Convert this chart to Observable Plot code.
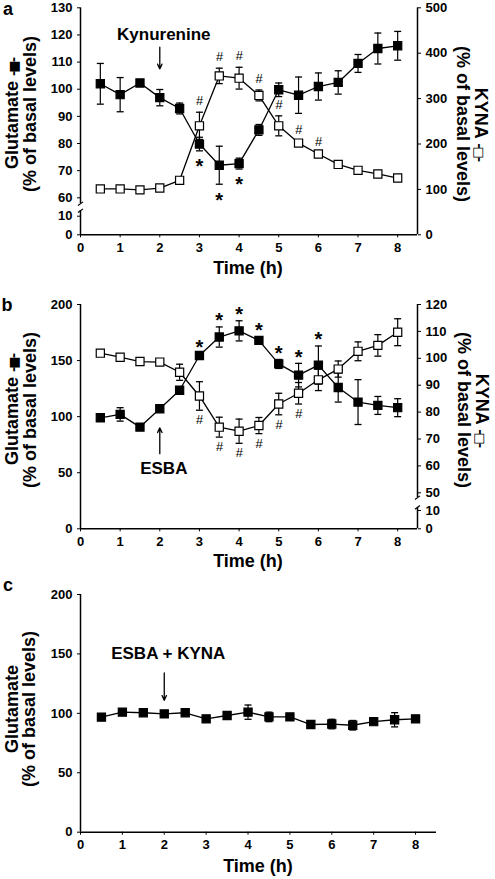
<!DOCTYPE html>
<html><head><meta charset="utf-8">
<script src="https://cdn.jsdelivr.net/npm/d3@7"></script>
<script src="https://cdn.jsdelivr.net/npm/@observablehq/plot@0.6"></script>
<style>
body{margin:0;background:#fff;}
#wrap{position:relative;width:495px;height:879px;overflow:hidden;font-family:"Liberation Sans",Arial,Helvetica,sans-serif;font-weight:bold;color:#000;background:#fff;}
.lbl{position:absolute;white-space:nowrap;text-align:center;line-height:17px;font-size:18px;}
.rot-l{transform:translate(-50%,-50%) rotate(-90deg);}
.rot-r{transform:translate(-50%,-50%) rotate(90deg);}
.ctr{transform:translate(-50%,-50%);}
.sym{letter-spacing:-2px;font-family:"DejaVu Sans",sans-serif;font-size:13px;color:#000;}
</style></head><body><div id="wrap"></div><script>
// ---------- data ----------
const times = [0.5,1,1.5,2,2.5,3,3.5,4,4.5,5,5.5,6,6.5,7,7.5,8];
const hourTicks = [0,1,2,3,4,5,6,7,8];

// panel a
const gluA    = [102,98,102.3,96.9,92.9,79.8,72,72.6,85,99.8,97.8,101,102.5,109.5,115,116];
const gluAErr = [7.5,6.3,1,3,2,2.5,7,2,2,2.5,6.7,5,4.3,3.3,5.7,5.3];
const kynaA    = [101,101,99,103,120,240,350,345,307,240,202,178,155,142,134,125];
const kynaAErr = [3,3,3,3,5,30,17,24,12,22,4,3,3,3,3,3];
const starA = [3,3.5,4];
const hashA = [3,3.5,4,4.5,5,5.5,6];
const ticksALeft = [0,10,60,70,80,90,100,110,120,130];
const ticksARight = [0,100,200,300,400,500];

// panel b
const gluB    = [99,102,90.7,107,123.5,154.5,171,176.5,168,147,137,146,126,113,110,108];
const gluBErr = [3,6,2,2,3,2,9,9,3,4,10.5,17,13,20,8,8];
const kynaB    = [101.9,100.4,98.8,98.6,94.8,86,74.4,72.9,75,83,87,92,96,102.6,104.8,109.7];
const kynaBErr = [1,1,1,1,3,5.3,3.7,4.5,3,4,4,4,3,3.5,4,5];
const starB = [3,3.5,4,4.5,5,5.5,6];
const hashB = [3,3.5,4,4.5,5,5.5];
const ticksBLeft = [0,50,100,150,200];
const ticksBRight = [0,10,50,60,70,80,90,100,110,120];

// panel c
const gluC    = [96.8,101,100.5,99.5,100.5,95.4,98.2,101,97,97,90.6,91,90,93,94.6,95.4];
const gluCErr = [2,2,2,2,2,2,2,6,4,2,2,4,4,2,6,2];
const ticksCLeft = [0,50,100,150,200];

// annotations
const annA = {label:"Kynurenine", t:2, textY:120, from:115.5, to:107.5};
const annB = {label:"ESBA", t:2, textY:54, from:67, to:90};
const annC = {label:"ESBA + KYNA", t:2, textY:150, from:134, to:111};

// broken-axis maps (value -> position units of a linear Plot scale)
const brokenA = d3.scaleLinear().domain([0,10,60,130]).range([0,18.6,37,227]);
const brokenB = d3.scaleLinear().domain([0,10,50,120]).range([0,18.3,36,224.3]);
const ident = v => v;

// ---------- helpers ----------
const W = 495;
const wrap = document.getElementById("wrap");
const FONT = "Liberation Sans, Arial, Helvetica, sans-serif";
const baseStyle = {fontFamily: FONT, fontSize: "13px", fontWeight: "bold", background: "transparent", color: "black", overflow: "visible"};

const rows = (vals, errs) => times.map((t,i)=>({t, v: vals[i], lo: vals[i]-errs[i], hi: vals[i]+errs[i]}));
const at = (rs, t) => rs.find(r => r.t === t);

const capSymbol = {draw(ctx){ ctx.moveTo(-3.5,0); ctx.lineTo(3.5,0); }};
const breakSymbol = {draw(ctx){ ctx.moveTo(-2.5,1.8); ctx.lineTo(2.5,-1.8); }};

function seriesMarks(data, filled, f = ident){
  return [
    Plot.line(data, {x:"t", y:d=>f(d.v), stroke:"black", strokeWidth:1.3}),
    Plot.ruleX(data, {x:"t", y1:d=>f(d.lo), y2:d=>f(d.hi), stroke:"black", strokeWidth:1.2}),
    Plot.dot(data, {x:"t", y:d=>f(d.hi), symbol:capSymbol, fill:"none", stroke:"black", strokeWidth:1.3}),
    Plot.dot(data, {x:"t", y:d=>f(d.lo), symbol:capSymbol, fill:"none", stroke:"black", strokeWidth:1.3}),
    Plot.dot(data, {x:"t", y:d=>f(d.v), symbol:"square", r:4.6, fill: filled ? "black" : "white", stroke:"black", strokeWidth:1.2})
  ];
}
function annotMarks(a, f = ident){
  return [
    Plot.text([a], {x:"t", y:d=>f(d.textY), text:"label", fontSize:17, fontWeight:"bold", dx:4}),
    Plot.arrow([a], {x1:"t", x2:"t", y1:d=>f(d.from), y2:d=>f(d.to), stroke:"black", strokeWidth:1.3, headLength:6, headAngle:50})
  ];
}
function place(svg, top){
  svg.style.position = "absolute"; svg.style.left = "0px"; svg.style.top = top + "px";
  wrap.appendChild(svg);
}
function label(html, cx, cy, cls){
  const d = document.createElement("div");
  d.className = "lbl " + cls;
  d.style.left = cx + "px"; d.style.top = cy + "px";
  d.innerHTML = html;
  wrap.appendChild(d);
}
const axisLine = {stroke:"black", strokeWidth:1.5};
const invFmt = m => u => String(Math.round(m.invert(u)));
const hashStyle = {fontSize:13, fontStyle:"italic", fontWeight:"normal", fill:"black"};

// ---------- panel a ----------
const rGA = rows(gluA, gluAErr), rKA = rows(kynaA, kynaAErr);
const aDims = {width:W, height:280, marginLeft:80, marginRight:78, marginTop:7.3, marginBottom:45.7, style:baseStyle};
place(Plot.plot({
  ...aDims,
  x:{domain:[0,8.5], ticks:hourTicks, tickSize:3, tickPadding:5, label:null},
  y:{domain:[0,227], ticks:ticksALeft.map(brokenA), tickFormat:invFmt(brokenA), tickSize:3, tickPadding:5, label:null},
  marks:[
    Plot.ruleY([0], {x1:0, x2:8.5, ...axisLine}),
    Plot.ruleX([[0,25],[44,130]], {x:0, y1:d=>brokenA(d[0]), y2:d=>brokenA(d[1]), ...axisLine}),
    Plot.dot([25,44], {x:0, y:d=>brokenA(d), symbol:breakSymbol, fill:"none", stroke:"black", strokeWidth:1.2}),
    ...annotMarks(annA, brokenA),
    ...seriesMarks(rGA, true, brokenA),
    Plot.text(starA, {x:d=>d, y:d=>brokenA(at(rGA,d).lo), text:()=>"*", fontSize:20, fontWeight:"bold", dy:16})
  ]
}), 0);
place(Plot.plot({
  ...aDims,
  x:{domain:[0,8.5], axis:null},
  y:{domain:[0,500], axis:"right", ticks:ticksARight, tickSize:3, tickPadding:5, label:null},
  marks:[
    Plot.ruleX([8.5], {y1:0, y2:500, ...axisLine}),
    ...seriesMarks(rKA, false),
    Plot.text(hashA, {x:d=>d, y:d=>at(rKA,d).hi, text:()=>"#", ...hashStyle, dy:-11})
  ]
}), 0);

// ---------- panel b ----------
const rGB = rows(gluB, gluBErr), rKB = rows(kynaB, kynaBErr);
const bDims = {width:W, height:290, marginLeft:80, marginRight:78, marginTop:24, marginBottom:41.7, style:baseStyle};
place(Plot.plot({
  ...bDims,
  x:{domain:[0,8.5], ticks:hourTicks, tickSize:3, tickPadding:5, label:null},
  y:{domain:[0,200], ticks:ticksBLeft, tickSize:3, tickPadding:5, label:null},
  marks:[
    Plot.ruleY([0], {x1:0, x2:8.5, ...axisLine}),
    Plot.ruleX([0], {y1:0, y2:200, ...axisLine}),
    ...annotMarks(annB),
    ...seriesMarks(rGB, true),
    Plot.text(starB, {x:d=>d, y:d=>at(rGB,d).hi, text:()=>"*", fontSize:20, fontWeight:"bold", dy:-6})
  ]
}), 280);
place(Plot.plot({
  ...bDims,
  x:{domain:[0,8.5], axis:null},
  y:{domain:[0,224.3], axis:"right", ticks:ticksBRight.map(brokenB), tickFormat:invFmt(brokenB), tickSize:3, tickPadding:5, label:null},
  marks:[
    Plot.ruleX([[0,17],[39,120]], {x:8.5, y1:d=>brokenB(d[0]), y2:d=>brokenB(d[1]), ...axisLine}),
    Plot.dot([17,39], {x:8.5, y:d=>brokenB(d), symbol:breakSymbol, fill:"none", stroke:"black", strokeWidth:1.2}),
    ...seriesMarks(rKB, false, brokenB),
    Plot.text(hashB, {x:d=>d, y:d=>brokenB(at(rKB,d).lo), text:()=>"#", ...hashStyle, dy:10})
  ]
}), 280);

// ---------- panel c ----------
const rGC = rows(gluC, gluCErr);
place(Plot.plot({
  width:W, height:309, marginLeft:80, marginRight:59, marginTop:24, marginBottom:47.3, style:baseStyle,
  x:{domain:[0,8.5], ticks:hourTicks, tickSize:3, tickPadding:5, label:null},
  y:{domain:[0,200], ticks:ticksCLeft, tickSize:3, tickPadding:5, label:null},
  marks:[
    Plot.ruleY([0], {x1:0, x2:8.5, ...axisLine}),
    Plot.ruleX([0], {y1:0, y2:200, ...axisLine}),
    ...annotMarks(annC),
    ...seriesMarks(rGC, true)
  ]
}), 570);

// ---------- text labels ----------
label('<span style="font-size:18px">a</span>', 8, 9, "ctr");
label('<span style="font-size:18px">b</span>', 7, 305, "ctr");
label('<span style="font-size:18px">c</span>', 8, 585, "ctr");

label('Glutamate <span class="sym">-■-</span><br>(% of basal levels)', 21, 114, "rot-l");
label('KYNA <span class="sym">-□-</span><br>(% of basal levels)', 471, 124, "rot-r");
label('Time (h)', 248, 268, "ctr");

label('Glutamate <span class="sym">-■-</span><br>(% of basal levels)', 21, 410, "rot-l");
label('KYNA <span class="sym">-□-</span><br>(% of basal levels)', 472, 410, "rot-r");
label('Time (h)', 248, 561, "ctr");

label('Glutamate<br>(% of basal levels)', 21, 709, "rot-l");
label('Time (h)', 258, 866, "ctr");
</script></body></html>
